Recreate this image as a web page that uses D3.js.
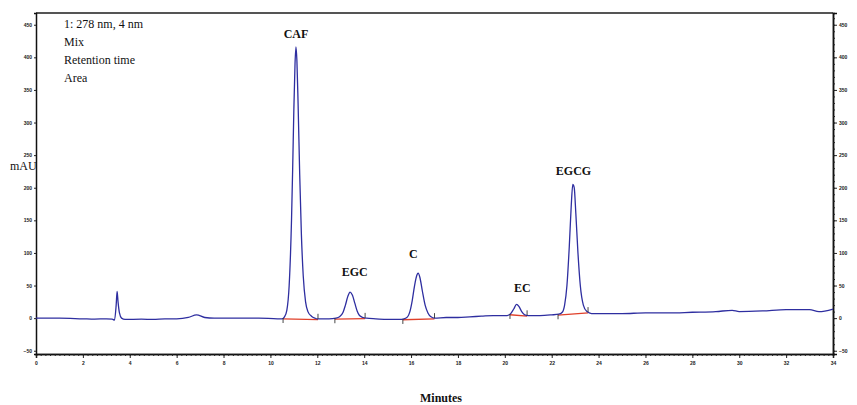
<!DOCTYPE html>
<html>
<head>
<meta charset="utf-8">
<script src="https://cdn.jsdelivr.net/npm/d3@7"></script>
<style>
  body { margin: 0; background: #fff; }
  svg { display: block; }
  .axis text { font-family: "Liberation Sans", sans-serif; font-size: 5px; font-weight: bold; fill: #222; }
</style>
</head>
<body>
<div id="chart"></div>
<script>
// retention time (min) and absorbance (mAU)
var traceTime = [0, 1, 2, 2.5, 3.0, 3.25, 3.35, 3.42, 3.46, 3.5, 3.56, 3.65, 3.8, 4.5, 5.0, 5.5, 6.0, 6.5, 6.85, 7.2, 7.6, 8.5, 9.5, 10.3, 10.5,
  10.6, 10.7, 10.8, 10.9, 10.95, 11.0, 11.05, 11.09, 11.13, 11.18, 11.25, 11.32, 11.4, 11.5, 11.6, 11.75, 11.9, 12.0, 12.5,
  12.8, 12.95, 13.1, 13.2, 13.3, 13.4, 13.5, 13.6, 13.7, 13.8, 13.95, 14.1, 14.5, 15.0, 15.5,
  15.7, 15.85, 15.95, 16.05, 16.15, 16.25, 16.3, 16.38, 16.48, 16.6, 16.72, 16.85, 17.0, 17.5, 18.0, 18.5, 19.0, 19.5, 20.0,
  20.1, 20.25, 20.38, 20.5, 20.6, 20.72, 20.85, 21.0, 21.5, 22.0,
  22.3, 22.45, 22.55, 22.65, 22.75, 22.83, 22.9, 22.96, 23.03, 23.12, 23.22, 23.35, 23.5, 23.7, 24.0,
  25, 26, 27, 28, 29, 29.7, 30, 31, 32, 33, 33.4, 34];
var traceValue = [0, 0, -1, -1.5, -1, -1.5, -3, 20, 41, 25, 8, 0, -2, -1.5, -2, -1, -1, 1, 5, 1, 0, 0, 0, -1, -1,
  2, 12, 50, 150, 230, 320, 390, 416, 395, 330, 220, 130, 65, 25, 10, 3, 0, -1, -1,
  0, 2, 9, 20, 33, 40, 35, 23, 11, 4, 1, 0, -1, -2, -2,
  -1, 2, 10, 27, 50, 66, 69, 62, 42, 20, 8, 2, 0, 1, 1, 2, 3, 4, 4,
  4, 7, 14, 21, 18, 10, 5, 4, 4, 5,
  6, 9, 20, 50, 110, 170, 205, 200, 160, 100, 50, 20, 10, 7, 7,
  7, 8, 8, 9, 10, 12, 10, 11, 13, 13, 10, 14];

// peak labels
var peakNames = ["CAF", "EGC", "C", "EC", "EGCG"];
var peakLabelTime = [11.09, 13.6, 16.1, 20.75, 22.93];
var peakLabelValue = [430, 65, 93, 40, 220];

// integration: start / end of each peak (min)
var peakStart = [10.54, 12.75, 15.65, 20.22, 22.27];
var peakEnd = [12.03, 14.04, 17.0, 20.95, 23.55];

var infoLines = ["1: 278 nm, 4 nm", "Mix", "Retention time", "Area"];
var yTicks = [-50, 0, 50, 100, 150, 200, 250, 300, 350, 400, 450];
var xTicks = d3.range(0, 34.01, 2);

var width = 857, height = 405;
var svg = d3.select("#chart").append("svg")
  .attr("width", width)
  .attr("height", height);

var x = d3.scaleLinear().domain([0, 34]).range([36, 833]);
var y = d3.scaleLinear().domain([-55, 468]).range([354, 13]);

var data = traceTime.map(function(t, i) { return {t: t, v: traceValue[i]}; });
var baseAt = function(t) {
  // read the drawn trace at time t (linear between points)
  var i = d3.bisector(function(d) { return d.t; }).left(data, t);
  if (i <= 0) return data[0].v;
  var a = data[i - 1], b = data[i];
  return a.v + (b.v - a.v) * (t - a.t) / (b.t - a.t);
};

// frame: top and right
svg.append("line").attr("x1", x(0)).attr("x2", x(34)).attr("y1", y(468)).attr("y2", y(468))
  .attr("stroke", "#555").attr("stroke-width", 2);

// axes
var gx = svg.append("g").attr("class", "axis").attr("transform", "translate(0," + y(-55) + ")");
gx.call(d3.axisBottom(x).tickValues(xTicks).tickSize(4).tickPadding(3).tickFormat(d3.format("d")));
svg.append("g").attr("transform", "translate(0," + y(-55) + ")")
  .call(d3.axisBottom(x).tickValues(d3.range(0, 34.01, 0.2)).tickSize(2).tickFormat(""));

var gl = svg.append("g").attr("class", "axis").attr("transform", "translate(" + x(0) + ",0)");
gl.call(d3.axisLeft(y).tickValues(yTicks).tickSize(2).tickPadding(2));

var gr = svg.append("g").attr("class", "axis").attr("transform", "translate(" + x(34) + ",0)");
gr.call(d3.axisRight(y).tickValues(yTicks).tickSize(4).tickPadding(2));
svg.append("g").attr("transform", "translate(" + x(34) + ",0)")
  .call(d3.axisRight(y).tickValues(d3.range(-50, 461, 10)).tickSize(2).tickFormat(""));

svg.selectAll(".domain").attr("stroke", "#111").attr("stroke-width", 1.5);
svg.selectAll(".tick line").attr("stroke", "#222");

// red integration baselines
svg.selectAll("line.integ")
  .data(peakStart)
  .enter()
  .append("line")
  .attr("class", "integ")
  .attr("x1", function(d) { return x(d); })
  .attr("x2", function(d, i) { return x(peakEnd[i]); })
  .attr("y1", function(d) { return y(baseAt(d)) + 0.8; })
  .attr("y2", function(d, i) { return y(baseAt(peakEnd[i])) + 0.8; })
  .attr("stroke", "#e0402a")
  .attr("stroke-width", 1.3);

// trace
var line = d3.line()
  .x(function(d) { return x(d.t); })
  .y(function(d) { return y(d.v); })
  .curve(d3.curveMonotoneX);

svg.append("path")
  .datum(data)
  .attr("fill", "none")
  .attr("stroke", "#2e2ea0")
  .attr("stroke-width", 1.3)
  .attr("d", line);

// start / end markers
svg.selectAll("line.start")
  .data(peakStart)
  .enter()
  .append("line")
  .attr("x1", function(d) { return x(d); })
  .attr("x2", function(d) { return x(d); })
  .attr("y1", function(d) { return y(baseAt(d)); })
  .attr("y2", function(d) { return y(baseAt(d)) + 5; })
  .attr("stroke", "#333").attr("stroke-width", 0.9);
svg.selectAll("line.end")
  .data(peakEnd)
  .enter()
  .append("line")
  .attr("x1", function(d) { return x(d); })
  .attr("x2", function(d) { return x(d); })
  .attr("y1", function(d) { return y(baseAt(d)); })
  .attr("y2", function(d) { return y(baseAt(d)) - 5; })
  .attr("stroke", "#333").attr("stroke-width", 0.9);

// peak labels
svg.selectAll("text.peak")
  .data(peakNames)
  .enter()
  .append("text")
  .attr("x", function(d, i) { return x(peakLabelTime[i]); })
  .attr("y", function(d, i) { return y(peakLabelValue[i]); })
  .attr("text-anchor", "middle")
  .attr("font-family", "Liberation Serif, serif")
  .attr("font-weight", "bold")
  .attr("font-size", 12)
  .attr("fill", "#111")
  .text(function(d) { return d; });

// info text
svg.selectAll("text.info")
  .data(infoLines)
  .enter()
  .append("text")
  .attr("x", 64)
  .attr("y", function(d, i) { return 28 + i * 18; })
  .attr("font-family", "Liberation Serif, serif")
  .attr("font-size", 12)
  .attr("fill", "#111")
  .text(function(d) { return d; });

svg.append("text")
  .attr("x", 10).attr("y", 170)
  .attr("font-family", "Liberation Serif, serif")
  .attr("font-size", 12)
  .attr("fill", "#111")
  .text("mAU");

svg.append("text")
  .attr("x", 441).attr("y", 402)
  .attr("text-anchor", "middle")
  .attr("font-family", "Liberation Serif, serif")
  .attr("font-weight", "bold")
  .attr("font-size", 12)
  .attr("fill", "#111")
  .text("Minutes");
</script>
</body>
</html>
